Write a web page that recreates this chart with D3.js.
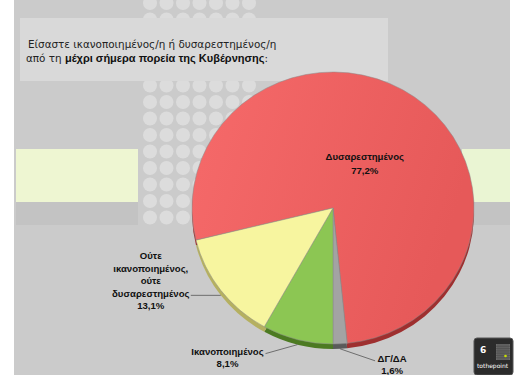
<!DOCTYPE html>
<html>
<head>
<meta charset="utf-8">
<script src="https://cdn.jsdelivr.net/npm/d3@7"></script>
<style>
  body { margin: 0; background: #fff; }
  text { font-family: 'DejaVu Sans', sans-serif; }
  .lab { font-family: 'Liberation Sans', Arial, sans-serif; font-weight: bold; font-size: 9.6px; fill: #111; }
</style>
</head>
<body>
<div id="chart-area"></div>
<script>
// survey answers
const categories = ['Δυσαρεστημένος', 'ΔΓ/ΔΑ', 'Ικανοποιημένος', 'Ούτε ικανοποιημένος, ούτε δυσαρεστημένος']
const labelLines = [
  ['Δυσαρεστημένος'],
  ['ΔΓ/ΔΑ'],
  ['Ικανοποιημένος'],
  ['Ούτε', 'ικανοποιημένος,', 'ούτε', 'δυσαρεστημένος']
]
const values = [77.2, 1.6, 8.1, 13.1]
const colors = ['#f06262', '#a3a3a3', '#8cc653', '#f7f59f']
const rimColors = ['#9e2f2f', '#5a5a5a', '#4c7a22', '#b5b060']

const width = 530
const height = 375
const cx = 333, cy = 208, rx = 141, ry = 136, depth = 5

const svg = d3.select('#chart-area')
  .append('svg')
    .attr('width', width)
    .attr('height', height)

const defs = svg.append('defs')
const grad = defs.append('linearGradient').attr('id', 'redGrad')
  .attr('x1', '0%').attr('x2', '100%').attr('y1', '0%').attr('y2', '30%')
grad.append('stop').attr('offset', '0%').attr('stop-color', '#f66a6a')
grad.append('stop').attr('offset', '100%').attr('stop-color', '#e65959')

// background panel
svg.append('rect').attr('x', 14).attr('y', 0).attr('width', 496).attr('height', height).attr('fill', '#cbcbcb')

// dot column
const dotCols = d3.range(7)
const dotRows = d3.range(14)
dotRows.forEach(r => {
  dotCols.forEach(c => {
    svg.append('circle')
      .attr('cx', 150 + c * 16.5)
      .attr('cy', 3 + r * 16.5)
      .attr('r', 7)
      .attr('fill', '#dcdcdc')
  })
})

// pale bands
svg.append('rect').attr('x', 16).attr('y', 149).attr('width', 122).attr('height', 53).attr('fill', '#eef6d2')
svg.append('rect').attr('x', 16).attr('y', 202).attr('width', 122).attr('height', 23).attr('fill', '#c3c3c3')
svg.append('rect').attr('x', 462).attr('y', 149).attr('width', 48).attr('height', 53).attr('fill', '#eaf5d3')
svg.append('rect').attr('x', 462).attr('y', 202).attr('width', 48).attr('height', 23).attr('fill', '#c3c3c3')

// title box
svg.append('rect').attr('x', 20).attr('y', 18).attr('width', 368).attr('height', 63).attr('fill', '#d9d9d9')
const title = svg.append('text').attr('font-size', 10.4).attr('fill', '#222')
title.append('tspan').attr('x', 28).attr('y', 48).text('Είσαστε ικανοποιημένος/η ή δυσαρεστημένος/η')
const t2 = title.append('tspan').attr('x', 26).attr('y', 62)
t2.append('tspan').text('από τη ')
t2.append('tspan').attr('font-weight', 'bold').attr('fill', '#111')
  .style('font-family', "'Liberation Sans', Arial, sans-serif").attr('font-size', 11)
  .text('μέχρι σήμερα πορεία της Κυβέρνησης')
t2.append('tspan').text(':')

// pie
const total = d3.sum(values)
const startAngle = Math.PI - (values[0] + values[1]) / total * 2 * Math.PI
const pie = d3.pie().sort(null).startAngle(startAngle).endAngle(startAngle + 2 * Math.PI)
const arcs = pie(values)
const arc = d3.arc().innerRadius(0).outerRadius(rx)
const sy = ry / rx

const rimG = svg.append('g').attr('transform', `translate(${cx}, ${cy + depth}) scale(1, ${sy})`)
rimG.selectAll('path').data(arcs).enter()
  .append('path')
    .attr('d', arc)
    .attr('fill', (d, i) => rimColors[i])

const faceG = svg.append('g').attr('transform', `translate(${cx}, ${cy}) scale(1, ${sy})`)
faceG.selectAll('path').data(arcs).enter()
  .append('path')
    .attr('d', arc)
    .attr('fill', (d, i) => i === 0 ? 'url(#redGrad)' : colors[i])
    .attr('stroke', '#8a8a8a')
    .attr('stroke-width', 0.5)
    .attr('vector-effect', 'non-scaling-stroke')

const pct = v => d3.format('.1f')(v).replace('.', ',') + '%'
const edge = (a, k) => {
  const m = (a.startAngle + a.endAngle) / 2
  return [cx + Math.sin(m) * rx * k, cy - Math.cos(m) * ry * k + depth]
}

// inside label for the large slice
const inner = d3.arc().innerRadius(0).outerRadius(rx * 0.78)
const c0 = inner.centroid(arcs[0])
const lab0 = svg.append('text').attr('class', 'lab').attr('text-anchor', 'middle')
lab0.append('tspan').attr('x', cx + c0[0]).attr('y', cy + c0[1] * sy - 5).text(labelLines[0][0])
lab0.append('tspan').attr('x', cx + c0[0]).attr('y', cy + c0[1] * sy + 9).text(pct(values[0]))

// outside labels: leader end offset, text offset
const outside = {
  1: { end: [35, 12], tx: 52, ty: 13 },
  2: { end: [-32, 9], tx: -70, ty: 10 },
  3: { end: [-30, 0], tx: -70, ty: -36 }
}
Object.keys(outside).forEach(k => {
  const i = +k
  const o = outside[i]
  const p = edge(arcs[i], 1)
  const e = [p[0] + o.end[0], p[1] + o.end[1]]
  svg.append('path')
    .attr('d', d3.line()([p, e]))
    .attr('stroke', '#555').attr('stroke-width', 0.8).attr('fill', 'none')
  const lines = labelLines[i].concat([pct(values[i])])
  const t = svg.append('text').attr('class', 'lab').attr('text-anchor', 'middle')
  lines.forEach((s, j) => {
    t.append('tspan').attr('x', p[0] + o.tx).attr('y', p[1] + o.ty + j * 12.5).text(s)
  })
})

// page badge
const badge = svg.append('g').attr('transform', 'translate(474, 338)')
badge.append('rect').attr('width', 39).attr('height', 37).attr('rx', 3).attr('fill', '#2b2b2b').attr('stroke', '#555')
badge.append('text').attr('x', 6).attr('y', 15).attr('font-size', 9).attr('font-weight', 'bold').attr('fill', '#fff').text('6')
badge.append('rect').attr('x', 22).attr('y', 6).attr('width', 14).attr('height', 16).attr('fill', '#6a6a6a')
d3.range(1, 7).forEach(n => {
  badge.append('line').attr('x1', 22 + n * 2).attr('x2', 22 + n * 2).attr('y1', 6).attr('y2', 22).attr('stroke', '#4a4a4a').attr('stroke-width', 0.6)
  badge.append('line').attr('x1', 22).attr('x2', 36).attr('y1', 6 + n * 2.3).attr('y2', 6 + n * 2.3).attr('stroke', '#4a4a4a').attr('stroke-width', 0.6)
})
badge.append('circle').attr('cx', 31.5).attr('cy', 18).attr('r', 1.3).attr('fill', '#c8e000')
badge.append('text').attr('x', 3).attr('y', 30).attr('font-size', 6).attr('fill', '#fff').text('tothepoint')
</script>
</body>
</html>
